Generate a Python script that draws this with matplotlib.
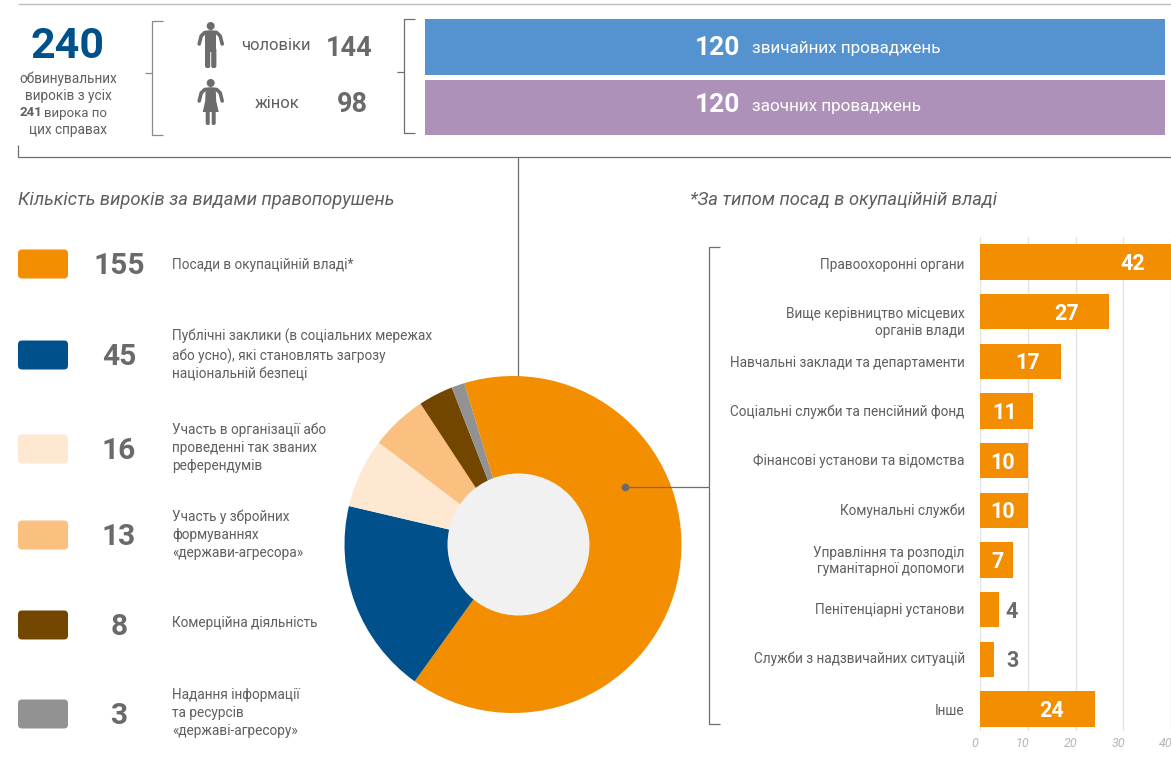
import matplotlib
matplotlib.use('Agg')
import matplotlib.pyplot as plt
from matplotlib.patches import Circle, FancyBboxPatch, Rectangle, Polygon
from matplotlib.transforms import ScaledTranslation

W, H = 1171, 764

plt.rcParams['font.family'] = ['Roboto', 'DejaVu Sans']

# pie data
offence_labels = ['Посади в окупаційній владі*',
                  'Публічні заклики (в соціальних мережах\nабо усно), які становлять загрозу\nнаціональній безпеці',
                  'Участь в організації або\nпроведенні так званих\nреферендумів',
                  'Участь у збройних\nформуваннях\n«держави-агресора»',
                  'Комерційна діяльність',
                  'Надання інформації\nта ресурсів\n«державі-агресору»']
offence_values = [155, 45, 16, 13, 8, 3]
offence_colors = ['#f28e00', '#00508c', '#fee8d2', '#fbc080', '#734600', '#929292']

# bar data
post_labels = ['Правоохоронні органи', 'Вище керівництво місцевих\nорганів влади',
               'Навчальні заклади та департаменти', 'Соціальні служби та пенсійний фонд',
               'Фінансові установи та відомства', 'Комунальні служби',
               'Управління та розподіл\nгуманітарної допомоги', 'Пенітенціарні установи',
               'Служби з надзвичайних ситуацій', 'Інше']
post_values = [42, 27, 17, 11, 10, 10, 7, 4, 3, 24]
post_ticks = [0, 10, 20, 30, 40]

GREY = '#5f5f5f'
NUM = '#6a6a6a'
LINE = '#6e6e6e'

fig = plt.figure(figsize=(W / 100, H / 100), dpi=100, facecolor='white')


def px_axes(x0, y0, x1, y1):
    return fig.add_axes([x0 / W, 1 - y1 / H, (x1 - x0) / W, (y1 - y0) / H])


bg = fig.add_axes([0, 0, 1, 1])
bg.set_xlim(0, W)
bg.set_ylim(H, 0)
bg.axis('off')


def line(xs, ys, c=LINE, lw=0.9):
    bg.plot(xs, ys, color=c, lw=lw, solid_capstyle='butt', solid_joinstyle='miter')


def txt(x, y, s, size=10, c=GREY, ha='left', weight='normal', style='normal', ls=1.37):
    bg.text(x, y, s, fontsize=size, color=c, ha=ha, va='center', fontweight=weight,
            fontstyle=style, linespacing=ls)


def person(cx, top, female=False):
    c = '#6c6c6c'
    bg.add_patch(Circle((cx, top + 4), 4, fc=c, ec='none'))
    # arms
    bg.plot([cx - 11.5, cx - 9.5, cx - 6, cx, cx + 6, cx + 9.5, cx + 11.5],
            [top + 22, top + 14, top + 10.5, top + 10, top + 10.5, top + 14, top + 22],
            color=c, lw=2.6, solid_capstyle='round', solid_joinstyle='round')
    if female:
        bg.add_patch(Polygon([(cx - 5, top + 9), (cx + 5, top + 9), (cx + 5.5, top + 22), (cx + 8, top + 33),
                              (cx - 8, top + 33), (cx - 5.5, top + 22)], fc=c, ec='none'))
        bg.add_patch(FancyBboxPatch((cx - 5, top + 31), 4, 15, boxstyle='round,pad=0,rounding_size=1.8', fc=c, ec='none'))
        bg.add_patch(FancyBboxPatch((cx + 1, top + 31), 4, 15, boxstyle='round,pad=0,rounding_size=1.8', fc=c, ec='none'))
    else:
        bg.add_patch(Rectangle((cx - 5.7, top + 9), 11.4, 21, fc=c, ec='none'))
        bg.add_patch(FancyBboxPatch((cx - 5.7, top + 26), 5.2, 20, boxstyle='round,pad=0,rounding_size=2', fc=c, ec='none'))
        bg.add_patch(FancyBboxPatch((cx + 0.5, top + 26), 5.2, 20, boxstyle='round,pad=0,rounding_size=2', fc=c, ec='none'))


# top block
line([18, W], [4, 4], '#bdbdbd', 1)
txt(68, 47, '240', 31, '#00508c', 'center', 'bold')
txt(68, 79, 'обвинувальних', 9.8, GREY, 'center')
txt(68, 96, 'вироків з усіх', 9.8, GREY, 'center')
bg.text(19, 113, '241', fontsize=9.5, color=GREY, ha='left', va='center', fontweight='bold')
bg.text(107, 113, 'вирока по', fontsize=9.5, color=GREY, ha='right', va='center')
txt(68, 130, 'цих справах', 9.8, GREY, 'center')

line([163, 152, 152, 163], [21, 21, 135, 135], '#8a8a8a')
line([145, 152], [73, 73], '#8a8a8a')
person(210.7, 22)
person(210.7, 79, True)
txt(276, 46, 'чоловіки', 12, GREY, 'center')
txt(277, 104, 'жінок', 12, GREY, 'center')
txt(349, 48, '144', 19.5, NUM, 'center', 'bold')
txt(352, 105, '98', 19.5, NUM, 'center', 'bold')

line([415, 404, 404, 415], [19, 19, 133, 133])
line([397, 404], [72, 72])
bg.add_patch(Rectangle((425, 19), 740, 56, fc='#5592d0', ec='none'))
bg.add_patch(Rectangle((425, 80), 740, 55, fc='#ae91b9', ec='none'))
txt(740, 48, '120', 19, 'white', 'right', 'bold')
txt(752, 49, 'звичайних проваджень', 12.3, 'white')
txt(740, 105, '120', 19, 'white', 'right', 'bold')
txt(752, 107, 'заочних проваджень', 12.3, 'white')

line([18, 18, W], [145, 157, 157])
line([518, 518], [157, 376])

txt(18, 200, 'Кількість вироків за видами правопорушень', 13.2, GREY, style='italic')
txt(690, 200, '*За типом посад в окупаційній владі', 13.2, GREY, style='italic')

# legend on the left
legend_y = [264, 355, 449, 535, 625, 714]
label_y = [265, 355, 448, 535, 623, 713]
for i, v in enumerate(offence_values):
    bg.add_patch(FancyBboxPatch((20, legend_y[i] - 12.5), 46, 25, boxstyle='round,pad=2,rounding_size=4',
                                fc=offence_colors[i], ec='none'))
    txt(119, legend_y[i] + 2, str(v), 21.5, NUM, 'center', 'bold')
    txt(172, label_y[i], offence_labels[i], 9.8)

# pie
pie_ax = px_axes(344.5, 376, 681.5, 713)
pie_ax.pie(offence_values, colors=offence_colors, startangle=106.8, counterclock=False, radius=1)
pie_ax.add_patch(Circle((5.5 / 168.5, 0), 71 / 168.5, fc='#f1f1f1', ec='none', zorder=5))
pie_ax.set_xlim(-1, 1)
pie_ax.set_ylim(-1, 1)

bg.set_zorder(3)
bg.patch.set_alpha(0)
bg.plot([625], [487], 'o', color='#6a6a6a', ms=4.5)
line([625, 709], [487, 487])
line([720, 709, 709, 720], [247, 247, 724, 724])

# bars
bar_ax = px_axes(980, 237, W, 731)
rows = list(range(len(post_values)))
bar_ax.barh(rows, post_values, height=0.71, color='#f28e00', zorder=2)
bar_ax.set_xlim(0, 40)
bar_ax.set_ylim((731 - 262) / 49.67, (237 - 262) / 49.67)
bar_ax.set_xticks(post_ticks)
bar_ax.set_xticklabels(post_ticks, fontsize=9, color='#b5b5b5', style='italic')
bar_ax.set_yticks([])
bar_ax.tick_params(axis='x', length=0, pad=4)
bar_ax.grid(axis='x', color='#e3e3e3', lw=1, zorder=0)
for s in bar_ax.spines.values():
    s.set_visible(False)
shift = ScaledTranslation(-5 / 100, 0, fig.dpi_scale_trans)
for t in bar_ax.get_xticklabels():
    t.set_transform(t.get_transform() + shift)

label_dy = [3, 11, 2, 1, 0, 0, 1, 0, -1, 2]
number_x = [32, 18.2, 10, 5.2, 4.8, 4.8, 3.6, 6.7, 6.9, 14.9]
for r, v, lab, dy, nx in zip(rows, post_values, post_labels, label_dy, number_x):
    bar_ax.annotate(lab, (0, r), xytext=(-11, -dy * 0.72), textcoords='offset points', ha='right', va='center',
                    fontsize=9.8, color=GREY, linespacing=1.25, annotation_clip=False)
    c = 'white' if v >= 7 else NUM
    bar_ax.annotate(str(v), (nx, r), xytext=(0, -1.4), textcoords='offset points', fontsize=15.5,
                    fontweight='bold', color=c, ha='center', va='center', zorder=4)

fig.savefig('out.png', dpi=100)
